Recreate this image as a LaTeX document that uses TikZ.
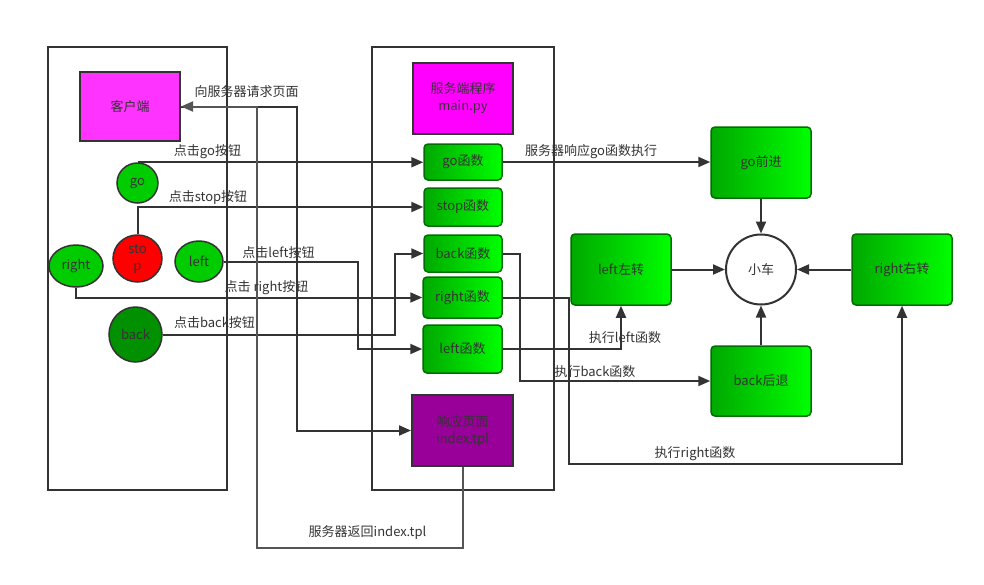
\documentclass[tikz,border=0pt]{standalone}
\usepackage{fontspec}
\setmainfont{Noto Sans CJK SC}
\usetikzlibrary{arrows.meta,shapes.geometric}

\definecolor{ink}{HTML}{333333}
\definecolor{inkb}{HTML}{555555}
\definecolor{pinkbox}{HTML}{FF33FF}
\definecolor{magbox}{HTML}{FF00FF}
\definecolor{purplebox}{HTML}{990099}
\definecolor{btngreen}{HTML}{00CC00}
\definecolor{btndark}{HTML}{009000}
\definecolor{btnred}{HTML}{FF0000}
\definecolor{gdark}{HTML}{00A800}
\definecolor{glight}{HTML}{00FF00}
\definecolor{gedge}{HTML}{006E00}

\begin{document}
\begin{tikzpicture}[x=1pt,y=-1pt]

    % Set the canvas size
    \useasboundingbox (0,0) rectangle (984,584);

    % Define styles
    \tikzset{
        txt/.style={font=\fontsize{13}{17}\selectfont, text=ink, align=center},
        panel/.style={draw=ink, line width=2pt},
        box/.style={txt, draw=ink, line width=2pt, minimum width=100pt, minimum height=70pt, inner sep=0pt},
        btn/.style={txt, ellipse, draw=ink, line width=1.5pt, fill=btngreen, inner sep=0pt},
        fn/.style={txt, draw=gedge, line width=1.5pt, rounded corners=4pt, left color=gdark, right color=glight, minimum width=78pt, inner sep=0pt},
        act/.style={fn, minimum width=100pt, minimum height=71pt},
        lbl/.style={txt},
        link/.style={draw=ink, line width=2pt, -{Triangle[length=12pt,width=10pt]}},
    }

    % Client side
    \draw[panel] (48,47) rectangle (227,490);
    \node[box, fill=pinkbox, minimum height=69pt] (client) at (130,106.5) {客户端};
    \node[btn, minimum width=41pt, minimum height=40pt] (bgo) at (137.5,183) {go};
    \node[btn, fill=btnred, minimum width=49pt, minimum height=47pt] (bstop) at (137.5,258.5) {sto\\p};
    \node[btn, minimum width=48pt, minimum height=41pt] (bleft) at (199,261.5) {left};
    \node[btn, minimum width=54pt, minimum height=42pt] (bright) at (76,266) {right};
    \node[btn, fill=btndark, minimum width=53pt, minimum height=55pt] (bback) at (135.5,334.5) {back};

    % Server side
    \draw[panel] (372,47) rectangle (554,490);
    \node[box, fill=magbox, minimum height=71pt] (server) at (463,98.5) {服务端程序\\main.py};
    \node[fn, minimum height=36pt] (gofn) at (463,162) {go函数};
    \node[fn, minimum height=38pt] (stopfn) at (463,207) {stop函数};
    \node[fn, minimum height=37pt] (backfn) at (463,253.5) {back函数};
    \node[fn, minimum width=79pt, minimum height=41pt] (rightfn) at (462.5,297.5) {right函数};
    \node[fn, minimum width=79pt, minimum height=48pt] (leftfn) at (462.5,349) {left函数};
    \node[box, fill=purplebox, minimum width=101pt, minimum height=71pt] (page) at (462.5,430.5) {响应页面\\index.tpl};

    % The car
    \node[act] (gocar) at (761,162.5) {go前进};
    \node[act] (leftcar) at (621,269.5) {left左转};
    \node[txt, circle, draw=ink, line width=2pt, fill=white, minimum size=70pt, inner sep=0pt] (car) at (761,269.5) {小车};
    \node[act] (rightcar) at (902,269.5) {right右转};
    \node[act, minimum height=70pt] (backcar) at (761,381) {back后退};

    % Buttons to functions
    \draw[link] (bgo.north) -- (bgo.north -| gofn.west);
    \draw[link] (bstop.north) |- (stopfn.west);
    \draw[link] (bleft.east) -- ++(134,0) |- (leftfn.west);
    \draw[link] (bright.south) |- (rightfn.west);
    \draw[link] (bback.east) -- ++(232,0) |- (backfn.west);

    % Page request and reply
    \draw[link] (client.east) -- ++(116,0) |- (page.west);
    \draw[link, draw=inkb] (page.south) -- ++(0,81) -- ++(-206,0) |- (client.east);

    % Functions to the car
    \draw[link] (gofn.east) -- (gofn.east -| gocar.west);
    \draw[link] (leftfn.east) -| (leftcar.south);
    \draw[link] (backfn.east) -- ++(17,0) |- (backcar.west);
    \draw[link] (rightfn.east) -- ++(66,0) -- ++(0,166) -| (rightcar.south);
    \draw[link] (gocar) -- (car);
    \draw[link] (leftcar) -- (car);
    \draw[link] (rightcar) -- (car);
    \draw[link] (backcar) -- (car);

    % Labels
    \node[lbl] (lask) at (246.5,92) {向服务器请求页面};
    \node[lbl] (lgo) at (207.5,152) {点击go按钮};
    \node[lbl] (lstop) at (208,197) {点击stop按钮};
    \node[lbl] (lleft) at (278.5,253) {点击left按钮};
    \node[lbl] (lright) at (266.5,288) {点击 right按钮};
    \node[lbl] (lback) at (214.5,323) {点击back按钮};
    \node[lbl] (lgofn) at (591,152) {服务器响应go函数执行};
    \node[lbl] (lleftfn) at (625,338) {执行left函数};
    \node[lbl] (lbackfn) at (595,371.5) {执行back函数};
    \node[lbl] (lrightfn) at (695,454) {执行right函数};
    \node[lbl] (lreply) at (367.5,532.5) {服务器返回index.tpl};

\end{tikzpicture}
\end{document}
